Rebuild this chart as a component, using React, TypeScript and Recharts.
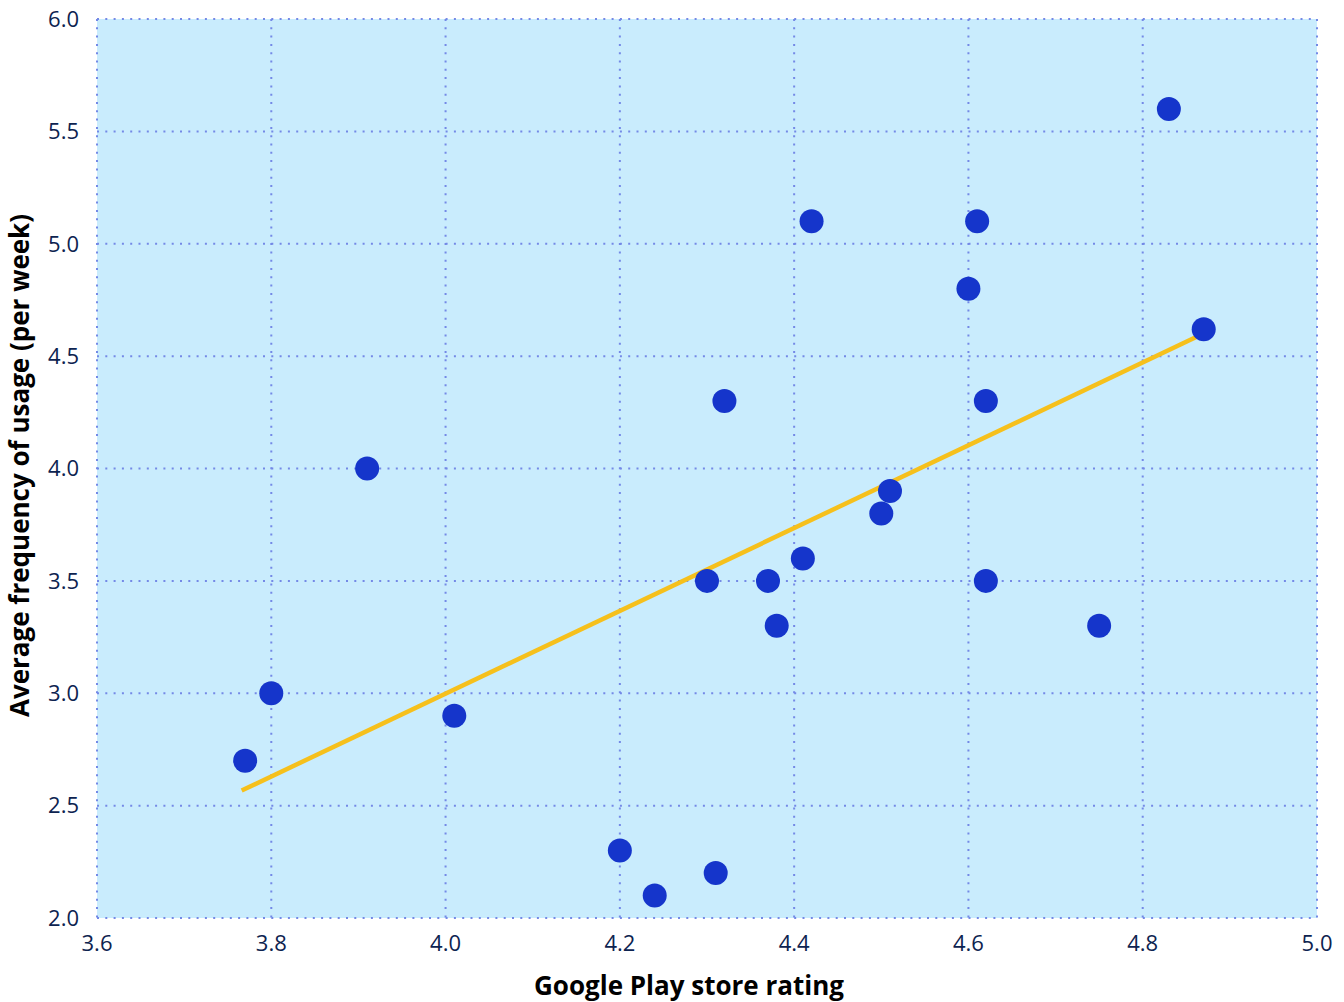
import { ScatterChart, Scatter, XAxis, YAxis, CartesianGrid, ReferenceLine } from "recharts";

const ratings = [3.77, 3.8, 3.91, 4.01, 4.2, 4.24, 4.3, 4.31, 4.32, 4.37, 4.38, 4.41, 4.42, 4.5, 4.51, 4.6, 4.61, 4.62, 4.62, 4.75, 4.83, 4.87];
const usage = [2.7, 3.0, 4.0, 2.9, 2.3, 2.1, 3.5, 2.2, 4.3, 3.5, 3.3, 3.6, 5.1, 3.8, 3.9, 4.8, 5.1, 4.3, 3.5, 3.3, 5.6, 4.62];

const trendX = [3.766, 4.862];
const trendY = [2.567, 4.586];

const xTicks = [3.6, 3.8, 4.0, 4.2, 4.4, 4.6, 4.8, 5.0];
const yTicks = [2.0, 2.5, 3.0, 3.5, 4.0, 4.5, 5.0, 5.5, 6.0];

const points = ratings.map((r, i) => ({ x: r, y: usage[i] }));

const FONT = "'Open Sans', Lato, sans-serif";
const tickStyle = { fill: "#0d2350", fontSize: 22, fontFamily: FONT, fontWeight: 500 };

function Dot(props: any) {
  return <circle cx={props.cx} cy={props.cy} r={12} fill="#1535cb" />;
}

export default function App() {
  return (
    <div style={{ position: "absolute", left: 0, top: 0 }}>
      <style>{`body{margin:0}`}</style>
      <ScatterChart width={1344} height={1002} margin={{ top: 19, right: 27, bottom: 0, left: 0 }}>
        <CartesianGrid
          fill="#c9ecfd"
          stroke="#7489e6"
          strokeWidth={2}
          strokeDasharray="2 6.3"
          horizontalValues={yTicks}
          verticalValues={xTicks}
        />
        <XAxis
          type="number"
          dataKey="x"
          domain={[3.6, 5.0]}
          ticks={xTicks}
          tickFormatter={(v) => v.toFixed(1)}
          axisLine={false}
          tickLine={false}
          tick={tickStyle}
          tickMargin={11}
          height={84}
          label={{
            content: (p: any) => (
              <text
                x={p.viewBox.x + p.viewBox.width / 2 - 18}
                y={995}
                textAnchor="middle"
                fontFamily={FONT}
                fontWeight={700}
                fontSize={26}
                fill="#000"
              >
                Google Play store rating
              </text>
            ),
          }}
        />
        <YAxis
          type="number"
          dataKey="y"
          domain={[2, 6]}
          ticks={yTicks}
          tickFormatter={(v) => v.toFixed(1)}
          axisLine={false}
          tickLine={false}
          tick={tickStyle}
          tickMargin={12}
          width={97}
          label={{
            content: (p: any) => {
              const cy = p.viewBox.y + p.viewBox.height / 2;
              return (
                <text
                  x={0}
                  y={0}
                  transform={`translate(29, ${cy - 3}) rotate(-90)`}
                  textAnchor="middle"
                  fontFamily={FONT}
                  fontWeight={700}
                  fontSize={26}
                  fill="#000"
                >
                  Average frequency of usage (per week)
                </text>
              );
            },
          }}
        />
        <ReferenceLine
          segment={[
            { x: trendX[0], y: trendY[0] },
            { x: trendX[1], y: trendY[1] },
          ]}
          stroke="#f6c01c"
          strokeWidth={4.5}
        />
        <Scatter data={points} shape={Dot} isAnimationActive={false} />
      </ScatterChart>
    </div>
  );
}
